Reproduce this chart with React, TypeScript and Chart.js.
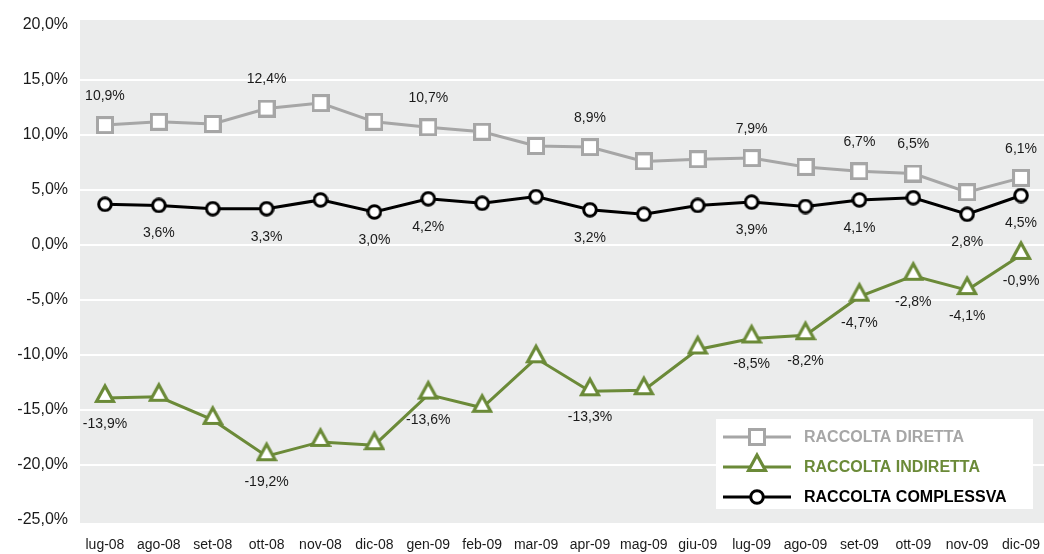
import React, { useEffect, useRef } from 'react';
import { Chart, registerables } from 'chart.js';

Chart.register(...registerables);

const categories = ['lug-08', 'ago-08', 'set-08', 'ott-08', 'nov-08', 'dic-08', 'gen-09', 'feb-09', 'mar-09', 'apr-09', 'mag-09', 'giu-09', 'lug-09', 'ago-09', 'set-09', 'ott-09', 'nov-09', 'dic-09'];
const raccoltaDiretta = [10.9, 11.2, 11.0, 12.4, 12.9, 11.2, 10.7, 10.3, 9.0, 8.9, 7.6, 7.8, 7.9, 7.1, 6.7, 6.5, 4.8, 6.1];
const raccoltaIndiretta = [-13.9, -13.8, -15.9, -19.2, -17.9, -18.2, -13.6, -14.8, -10.3, -13.3, -13.2, -9.5, -8.5, -8.2, -4.7, -2.8, -4.1, -0.9];
const raccoltaComplessiva = [3.7, 3.6, 3.3, 3.3, 4.1, 3.0, 4.2, 3.8, 4.4, 3.2, 2.8, 3.6, 3.9, 3.5, 4.1, 4.3, 2.8, 4.5];
const labeledDiretta = [0, 3, 6, 9, 12, 14, 15, 17];
const labeledIndiretta = [0, 3, 6, 9, 12, 13, 14, 15, 16, 17];
const labeledComplessiva = [1, 3, 5, 6, 9, 12, 14, 16, 17];
const seriesNames = ['RACCOLTA DIRETTA', 'RACCOLTA INDIRETTA', 'RACCOLTA COMPLESSVA'];
const yMin = -25;
const yMax = 20;
const yStep = 5;

const GRAY = '#A6A6A6';
const GREEN = '#6B8A38';
const BLACK = '#000000';
const PLOT_BG = '#EBECEC';
const FONT = '"Liberation Sans", Arial, Helvetica, sans-serif';

const fmt = (v: number) => v.toFixed(1).replace('.', ',') + '%';

function makeSquare(color: string) {
  const c = document.createElement('canvas');
  c.width = 18; c.height = 18;
  const g = c.getContext('2d')!;
  g.fillStyle = '#fff';
  g.fillRect(1.5, 1.5, 15, 15);
  g.strokeStyle = color;
  g.lineWidth = 3;
  g.strokeRect(1.5, 1.5, 15, 15);
  return c;
}
function makeCircle(color: string) {
  const c = document.createElement('canvas');
  c.width = 16; c.height = 16;
  const g = c.getContext('2d')!;
  g.beginPath();
  g.arc(8, 8, 6.3, 0, Math.PI * 2);
  g.fillStyle = '#fff';
  g.fill();
  g.strokeStyle = color;
  g.lineWidth = 3;
  g.stroke();
  return c;
}
function makeTriangle(color: string) {
  const c = document.createElement('canvas');
  c.width = 22; c.height = 32;
  const g = c.getContext('2d')!;
  g.beginPath();
  g.moveTo(11, 4);
  g.lineTo(2.5, 19.5);
  g.lineTo(19.5, 19.5);
  g.closePath();
  g.fillStyle = '#fff';
  g.fill();
  g.strokeStyle = color;
  g.lineWidth = 3.2;
  g.lineJoin = 'miter';
  g.stroke();
  return c;
}

export default function App() {
  const ref = useRef<HTMLCanvasElement | null>(null);
  useEffect(() => {
    if (!ref.current) return;
    const sq = makeSquare(GRAY);
    const tri = makeTriangle(GREEN);
    const circ = makeCircle(BLACK);
    const markers = [sq, tri, circ];
    const colors = [GRAY, GREEN, BLACK];

    const bgPlugin = {
      id: 'bg',
      beforeDraw(chart: any) {
        const { ctx, chartArea } = chart;
        ctx.save();
        ctx.fillStyle = PLOT_BG;
        ctx.fillRect(80, chartArea.top - 5, chartArea.right - 78, chartArea.bottom - chartArea.top + 8);
        ctx.restore();
      },
    };

    const labelPlugin = {
      id: 'vlabels',
      afterDatasetsDraw(chart: any) {
        const { ctx } = chart;
        ctx.save();
        ctx.font = '14px ' + FONT;
        ctx.fillStyle = '#1a1a1a';
        ctx.textAlign = 'center';
        ctx.textBaseline = 'middle';
        const conf: [number, number[], number[], number][] = [
          [0, labeledDiretta, raccoltaDiretta, -29],
          [1, labeledIndiretta, raccoltaIndiretta, 26],
          [2, labeledComplessiva, raccoltaComplessiva, 28],
        ];
        conf.forEach(([di, idxs, vals, off]) => {
          const meta = chart.getDatasetMeta(di);
          idxs.forEach((i) => {
            const p = meta.data[i];
            ctx.fillText(fmt(vals[i]), p.x, p.y + off);
          });
        });
        ctx.restore();
      },
      afterDraw(chart: any) {
        const { ctx } = chart;
        ctx.save();
        ctx.fillStyle = '#fff';
        ctx.fillRect(716, 419, 317, 90);
        const rows = [437, 467, 497];
        rows.forEach((y, i) => {
          ctx.strokeStyle = colors[i];
          ctx.lineWidth = 3;
          ctx.beginPath();
          ctx.moveTo(723, y);
          ctx.lineTo(791, y);
          ctx.stroke();
          const m = markers[i];
          ctx.drawImage(m, 757 - m.width / 2, y - m.height / 2);
          ctx.font = 'bold 16px ' + FONT;
          ctx.fillStyle = colors[i];
          ctx.textAlign = 'left';
          ctx.textBaseline = 'middle';
          ctx.fillText(seriesNames[i], 804, y + 1);
        });
        ctx.restore();
      },
    };

    const chart = new Chart(ref.current, {
      type: 'line',
      data: {
        labels: categories,
        datasets: [
          {
            label: seriesNames[0],
            data: raccoltaDiretta,
            borderColor: GRAY,
            borderWidth: 3,
            pointStyle: sq as any,
            pointRadius: 1,
            pointBorderWidth: 0,
            tension: 0,
            clip: false,
          },
          {
            label: seriesNames[1],
            data: raccoltaIndiretta,
            borderColor: GREEN,
            borderWidth: 3,
            pointStyle: tri as any,
            pointRadius: 1,
            pointBorderWidth: 0,
            tension: 0,
            clip: false,
          },
          {
            label: seriesNames[2],
            data: raccoltaComplessiva,
            borderColor: BLACK,
            borderWidth: 3,
            pointStyle: circ as any,
            pointRadius: 1,
            pointBorderWidth: 0,
            tension: 0,
            clip: false,
          },
        ],
      },
      options: {
        responsive: false,
        animation: false,
        events: [],
        layout: { padding: { top: 25, left: 0, right: 0, bottom: 0 } },
        plugins: {
          legend: { display: false },
          tooltip: { enabled: false },
          title: { display: false },
        },
        scales: {
          x: {
            offset: true,
            grid: { display: false, drawTicks: true, tickLength: 17 },
            border: { display: false },
            ticks: {
              color: '#1a1a1a',
              font: { family: FONT, size: 14 },
              padding: 0,
              maxRotation: 0,
              autoSkip: false,
            },
            afterFit: (s: any) => { s.height = 34; },
          },
          y: {
            min: yMin,
            max: yMax,
            border: { display: false },
            grid: {
              drawTicks: false,
              lineWidth: 2,
              color: (c: any) => (c.tick && (c.tick.value === yMin || c.tick.value === yMax) ? 'rgba(0,0,0,0)' : '#ffffff'),
            },
            ticks: {
              stepSize: yStep,
              color: '#1a1a1a',
              font: { family: FONT, size: 16 },
              padding: 10,
              callback: (v: any) => fmt(Number(v)),
            },
            afterFit: (s: any) => { s.width = 78; },
          },
        },
      },
      plugins: [bgPlugin, labelPlugin],
    });
    return () => chart.destroy();
  }, []);

  return (
    <div style={{ position: 'fixed', left: 0, top: 0, width: 1044, height: 554, overflow: 'hidden', background: '#fff' }}>
      <canvas ref={ref} width={1052} height={554} style={{ display: 'block' }} />
    </div>
  );
}
